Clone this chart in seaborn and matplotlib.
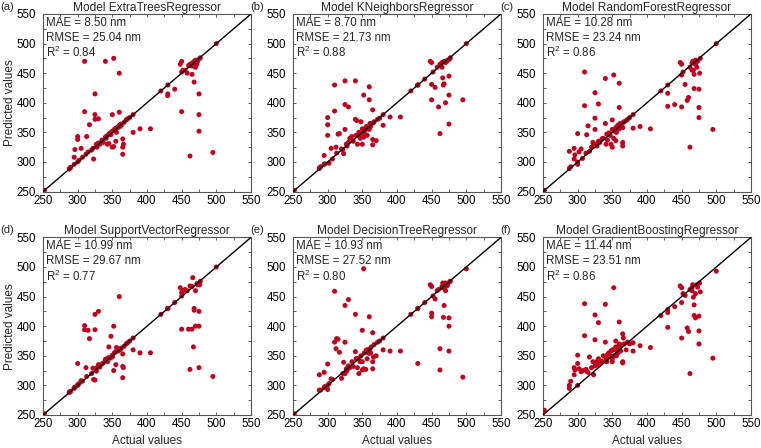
import numpy as np
import pandas as pd
import seaborn as sns
import matplotlib.pyplot as plt
from matplotlib.ticker import MultipleLocator

# test set - actual values (shared by all models)
actual = [252, 288, 288, 290, 295, 295, 296, 300, 300, 300, 302, 305, 307, 310, 310, 312, 313, 315, 317, 320,
          322, 323, 325, 325, 325, 327, 328, 330, 330, 332, 335, 337, 340, 340, 341, 342, 343, 345, 345, 347,
          348, 350, 350, 350, 352, 352, 353, 355, 355, 356, 357, 358, 360, 360, 360, 361, 362, 363, 365, 365,
          365, 366, 367, 370, 372, 375, 380, 380, 390, 405, 420, 430, 430, 430, 440, 448, 450, 450, 450, 452,
          455, 458, 460, 462, 462, 465, 465, 466, 467, 468, 468, 470, 470, 472, 473, 475, 475, 475, 476, 477,
          495, 500]

pred_et = [252, 289, 288, 291, 296, 308, 321, 343, 338, 300, 303, 323, 308, 470, 385, 313, 343, 317, 363, 320,
           323, 305, 415, 380, 372, 330, 325, 373, 332, 330, 337, 333, 470, 342, 340, 344, 330, 347, 331, 349,
           346, 380, 352, 325, 475, 326, 355, 335, 357, 350, 358, 358, 450, 384, 362, 360, 364, 362, 313, 325,
           339, 330, 367, 371, 373, 375, 380, 350, 356, 356, 420, 430, 415, 412, 423, 465, 385, 452, 470, 455,
           455, 450, 463, 310, 465, 448, 462, 468, 463, 435, 470, 460, 472, 465, 470, 352, 380, 415, 475, 476,
           316, 500]

pred_kn = [252, 289, 290, 292, 311, 296, 297, 375, 363, 345, 298, 323, 305, 430, 386, 325, 315, 347, 348, 322,
           321, 314, 437, 355, 397, 330, 327, 393, 333, 340, 343, 335, 437, 372, 345, 370, 330, 345, 350, 340,
           368, 356, 348, 330, 413, 342, 351, 358, 355, 360, 345, 357, 427, 405, 355, 365, 360, 365, 329, 338,
           388, 366, 368, 336, 372, 374, 380, 362, 376, 376, 420, 430, 430, 430, 440, 470, 431, 405, 468, 452,
           426, 460, 393, 348, 465, 460, 468, 442, 430, 432, 470, 400, 468, 470, 472, 364, 413, 445, 474, 476,
           405, 500]

pred_rf = [252, 289, 318, 292, 323, 305, 312, 348, 296, 300, 317, 322, 306, 452, 395, 315, 346, 361, 318, 325,
           333, 330, 417, 374, 355, 330, 327, 398, 335, 333, 339, 340, 441, 365, 330, 347, 337, 346, 349, 345,
           330, 371, 355, 325, 447, 340, 352, 336, 358, 350, 360, 362, 433, 392, 356, 365, 363, 360, 327, 333,
           358, 367, 368, 370, 372, 375, 380, 357, 360, 356, 420, 430, 416, 394, 397, 468, 393, 447, 465, 452,
           431, 404, 409, 325, 460, 455, 467, 470, 455, 424, 448, 465, 472, 460, 470, 375, 423, 392, 450, 475,
           355, 500]

pred_sv = [252, 289, 288, 290, 295, 296, 297, 337, 300, 301, 303, 308, 307, 401, 394, 330, 315, 393, 379, 320,
           329, 310, 394, 420, 309, 324, 330, 425, 335, 331, 336, 338, 344, 342, 342, 345, 340, 347, 365, 346,
           383, 351, 350, 348, 400, 325, 355, 335, 357, 364, 359, 358, 450, 360, 362, 360, 362, 363, 313, 332,
           353, 330, 366, 370, 372, 375, 380, 360, 355, 355, 420, 430, 430, 430, 440, 465, 395, 451, 457, 460,
           462, 460, 395, 327, 468, 395, 467, 482, 365, 427, 430, 400, 460, 472, 470, 330, 400, 425, 470, 476,
           315, 500]

pred_dt = [252, 292, 318, 292, 322, 296, 298, 336, 293, 300, 303, 311, 310, 459, 373, 362, 379, 378, 356, 312,
           320, 339, 435, 373, 320, 328, 325, 445, 333, 330, 340, 332, 420, 357, 345, 345, 330, 320, 346, 340,
           350, 393, 340, 326, 497, 328, 355, 327, 356, 360, 345, 360, 416, 354, 360, 362, 355, 365, 328, 340,
           389, 348, 369, 350, 373, 375, 380, 360, 358, 358, 420, 430, 337, 430, 440, 470, 416, 422, 467, 451,
           446, 460, 462, 326, 362, 465, 467, 473, 415, 435, 465, 473, 460, 468, 470, 358, 400, 414, 475, 476,
           314, 497]

pred_gb = [258, 295, 300, 307, 318, 330, 326, 351, 337, 300, 328, 323, 325, 438, 384, 327, 324, 322, 348, 330,
           340, 318, 419, 377, 333, 340, 335, 406, 345, 338, 341, 350, 437, 373, 345, 340, 352, 348, 355, 350,
           358, 360, 345, 340, 465, 360, 350, 375, 365, 350, 360, 355, 407, 370, 367, 365, 358, 368, 340, 338,
           387, 380, 370, 360, 373, 370, 372, 358, 367, 364, 418, 428, 423, 398, 433, 468, 380, 440, 465, 455,
           452, 397, 391, 320, 462, 460, 465, 470, 449, 418, 436, 414, 455, 470, 466, 370, 392, 417, 473, 458,
           346, 493]

models = ['ExtraTreesRegressor', 'KNeighborsRegressor', 'RandomForestRegressor',
          'SupportVectorRegressor', 'DecisionTreeRegressor', 'GradientBoostingRegressor']
preds = [pred_et, pred_kn, pred_rf, pred_sv, pred_dt, pred_gb]
mae = ['8.50', '8.70', '10.28', '10.99', '10.93', '11.44']
rmse = ['25.04', '21.73', '23.24', '29.67', '27.52', '23.51']
r2 = ['0.84', '0.88', '0.86', '0.77', '0.80', '0.86']
labels = ['(a)', '(b)', '(c)', '(d)', '(e)', '(f)']

sns.set_style('ticks')
plt.rcParams['font.family'] = ['Liberation Sans', 'DejaVu Sans']
plt.rcParams['font.size'] = 8.5
plt.rcParams['mathtext.fontset'] = 'custom'
plt.rcParams['mathtext.rm'] = 'Liberation Sans'

fig, axes = plt.subplots(2, 3, figsize=(7.61, 4.48), dpi=100)
fig.subplots_adjust(left=0.0565, right=0.9868, bottom=0.0737, top=0.9688, wspace=0.202, hspace=0.258)

for i, ax in enumerate(axes.flat):
    df = pd.DataFrame({'actual': actual, 'pred': preds[i]})
    sns.scatterplot(data=df, x='actual', y='pred', ax=ax, color='#c5001c', s=13,
                    edgecolor='none', zorder=3)
    ax.plot([250, 550], [250, 550], color='black', lw=1, zorder=4)
    ax.set_xlim(250, 550)
    ax.set_ylim(250, 550)
    ax.xaxis.set_major_locator(MultipleLocator(50))
    ax.yaxis.set_major_locator(MultipleLocator(50))
    ax.xaxis.set_minor_locator(MultipleLocator(25))
    ax.yaxis.set_minor_locator(MultipleLocator(25))
    ax.tick_params(which='both', direction='in', top=True, right=True, labelsize=8.3,
                   length=2.5, width=0.6, colors='#444444', labelcolor='black')
    ax.tick_params(axis='x', which='major', pad=2.5)
    ax.tick_params(axis='y', which='major', pad=5)
    for sp in ax.spines.values():
        sp.set_color('#555555')
        sp.set_linewidth(0.8)
    ax.set_title('Model ' + models[i], fontsize=8.6, pad=1.5)
    ax.set_xlabel('Actual values' if i >= 3 else '', fontsize=8.5, labelpad=3)
    ax.set_ylabel('Predicted values' if i % 3 == 0 else '', fontsize=8.5, labelpad=0.5)
    ax.text(0.015, 0.95, f'MAE = {mae[i]} nm', transform=ax.transAxes, va='center', fontsize=8.3)
    ax.text(0.015, 0.866, f'RMSE = {rmse[i]} nm', transform=ax.transAxes, va='center', fontsize=8.3)
    ax.text(0.015, 0.782, f'R$^2$ = {r2[i]}', transform=ax.transAxes, va='center', fontsize=8.3)
    ax.text(-43 / 208, 1.042, labels[i], transform=ax.transAxes, va='center', ha='left', fontsize=8)

fig.savefig('out.png', dpi=100)
